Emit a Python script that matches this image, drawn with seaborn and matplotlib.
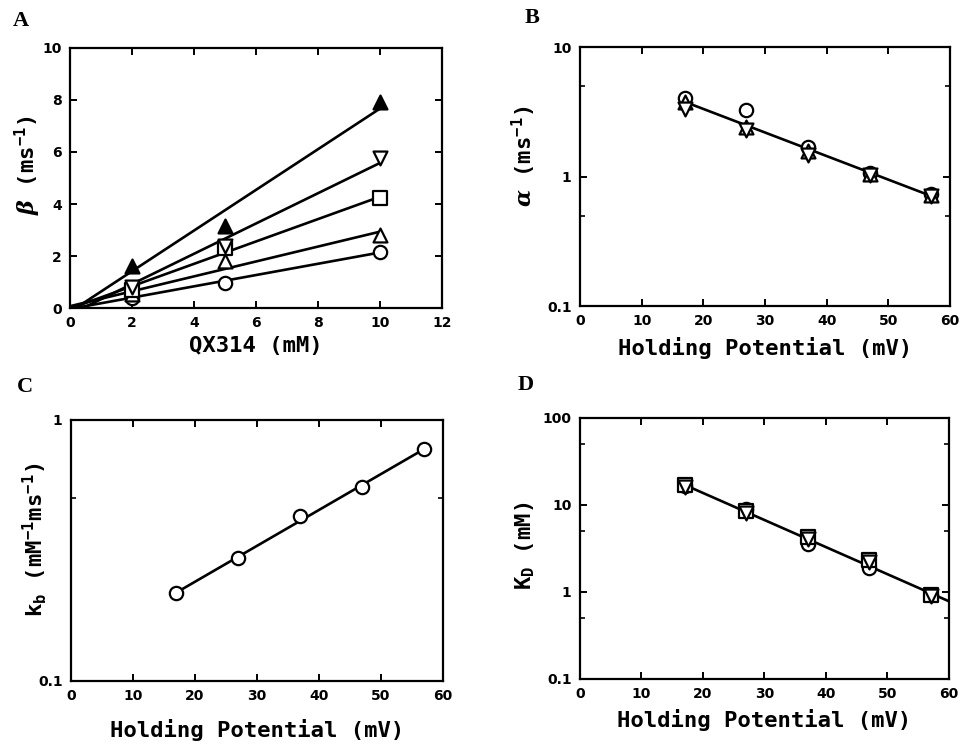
import numpy as np
import pandas as pd
import matplotlib
matplotlib.use("Agg")
import matplotlib.pyplot as plt
from matplotlib.ticker import LogLocator, NullFormatter, FuncFormatter, MultipleLocator
import seaborn as sns

# ---- Panel A: beta vs QX314 concentration, one series per holding potential ----
conc_mM = [0, 2, 5, 10]
beta_17mV = [0, 0.40, 0.98, 2.17]
beta_27mV = [0, 0.55, 1.79, 2.81]
beta_37mV = [0, 0.70, 2.30, 4.22]
beta_47mV = [0, 0.80, 2.37, 5.75]
beta_57mV = [0, 1.60, 3.16, 7.93]

# ---- Panels B-D: vs holding potential ----
potential_mV = [17, 27, 37, 47, 57]
alpha_2mM = [4.05, 3.25, 1.70, 1.07, 0.73]
alpha_5mM = [3.75, 2.40, 1.58, 1.05, 0.72]
alpha_10mM = [3.35, 2.30, 1.48, 1.03, 0.71]
kb_values = [0.217, 0.295, 0.429, 0.552, 0.772]
kd_circle = [16.5, 9.0, 3.6, 1.88, 0.92]
kd_square = [17.0, 8.6, 4.3, 2.35, 0.93]
kd_tri = [16.0, 8.0, 4.1, 2.2, 0.90]

sns.set_theme(style="ticks")
plt.rcParams.update({
    "font.family": ["DejaVu Sans"],
    "font.weight": "bold",
    "text.color": "black",
    "axes.labelcolor": "black",
    "axes.edgecolor": "black",
    "axes.linewidth": 1.6,
    "xtick.color": "black",
    "ytick.color": "black",
    "xtick.direction": "in",
    "ytick.direction": "in",
    "xtick.top": True,
    "ytick.right": True,
    "xtick.major.size": 5,
    "ytick.major.size": 5,
    "xtick.major.width": 1.4,
    "ytick.major.width": 1.4,
    "ytick.minor.size": 3.5,
    "ytick.minor.width": 1.2,
    "xtick.labelsize": 10,
    "ytick.labelsize": 10,
    "xtick.major.pad": 6,
    "ytick.major.pad": 6,
    "mathtext.fontset": "custom",
    "mathtext.rm": "DejaVu Sans Mono:bold",
    "mathtext.bf": "DejaVu Sans Mono:bold",
    "mathtext.it": "DejaVu Serif:italic:bold",
    "mathtext.default": "rm",
})

LABEL_FONT = dict(family="DejaVu Sans Mono", weight="bold", size=16)
MS = 92
EW = 1.6
LW = 1.9

fig = plt.figure(figsize=(9.61, 7.44), dpi=100)
axA = fig.add_axes([0.0728, 0.586, 0.387, 0.3495])
axB = fig.add_axes([0.6035, 0.5887, 0.385, 0.348])
axC = fig.add_axes([0.0739, 0.0847, 0.387, 0.351])
axD = fig.add_axes([0.6035, 0.0874, 0.384, 0.351])


def pts(ax, x, y, marker, filled=False, size=MS):
    sns.scatterplot(x=x, y=y, marker=marker, s=size,
                    color="black" if filled else "white",
                    edgecolor="black", linewidth=EW, ax=ax,
                    zorder=3, legend=False, clip_on=False)


def fit_line(ax, x, y, x0, x1, log=False):
    x = np.asarray(x, float)
    y = np.asarray(y, float)
    xs = np.array([x0, x1])
    if log:
        p = np.polyfit(x, np.log10(y), 1)
        ys = 10 ** np.polyval(p, xs)
    else:
        p = np.polyfit(x, y, 1)
        ys = np.polyval(p, xs)
    sns.lineplot(x=xs, y=ys, color="black", linewidth=LW, ax=ax, zorder=2)


# ---- A ----
series_A = [
    (beta_17mV, "o", False),
    (beta_27mV, "^", False),
    (beta_37mV, "s", False),
    (beta_47mV, "v", False),
    (beta_57mV, "^", True),
]
for vals, mk, filled in series_A:
    fit_line(axA, conc_mM, vals, 0, 10)
for vals, mk, filled in series_A:
    xs = [c for c in conc_mM if c > 0]
    ys = [v for c, v in zip(conc_mM, vals) if c > 0]
    pts(axA, xs, ys, mk, filled, size=MS if mk == "o" else 100)
axA.set_xlim(0, 12)
axA.set_ylim(0, 10)
axA.xaxis.set_major_locator(MultipleLocator(2))
axA.yaxis.set_major_locator(MultipleLocator(2))
axA.set_xlabel("QX314 (mM)", **LABEL_FONT)
axA.set_ylabel(r"$\mathit{\beta}$ (ms$^{-1}$)", **LABEL_FONT)

# ---- B ----
all_alpha = alpha_2mM + alpha_5mM + alpha_10mM
fit_line(axB, potential_mV * 3, all_alpha, 17, 57, log=True)
pts(axB, potential_mV, alpha_2mM, "o")
pts(axB, potential_mV, alpha_5mM, "^", size=100)
pts(axB, potential_mV, alpha_10mM, "v", size=100)
axB.set_yscale("log")
axB.set_xlim(0, 60)
axB.set_ylim(0.1, 10)
axB.set_xlabel("Holding Potential (mV)", **LABEL_FONT)
axB.set_ylabel(r"$\mathit{\alpha}$ (ms$^{-1}$)", **LABEL_FONT)

# ---- C ----
fit_line(axC, potential_mV, kb_values, 17, 57, log=True)
pts(axC, potential_mV, kb_values, "o")
axC.set_yscale("log")
axC.set_xlim(0, 60)
axC.set_ylim(0.1, 1)
axC.set_xlabel("Holding Potential (mV)", **LABEL_FONT)
axC.set_ylabel(r"k$_{\mathrm{b}}$ (mM$^{-1}$ms$^{-1}$)", **LABEL_FONT)

# ---- D ----
all_kd = kd_circle + kd_square + kd_tri
fit_line(axD, potential_mV * 3, all_kd, 17, 60, log=True)
pts(axD, potential_mV, kd_circle, "o")
pts(axD, potential_mV, kd_square, "s")
pts(axD, potential_mV, kd_tri, "v", size=100)
axD.set_yscale("log")
axD.set_xlim(0, 60)
axD.set_ylim(0.1, 100)
axD.set_xlabel("Holding Potential (mV)", **LABEL_FONT)
axD.set_ylabel(r"K$_{\mathrm{D}}$ (mM)", **LABEL_FONT)

fmt = FuncFormatter(lambda v, _: f"{v:g}")
for ax in (axB, axC, axD):
    ax.xaxis.set_major_locator(MultipleLocator(10))
    ax.yaxis.set_major_locator(LogLocator(base=10, numticks=10))
    ax.yaxis.set_minor_locator(LogLocator(base=10, subs=[5], numticks=10))
    ax.yaxis.set_major_formatter(fmt)
    ax.yaxis.set_minor_formatter(NullFormatter())

for ax in (axA, axB, axC, axD):
    ax.tick_params(axis="x", which="minor", bottom=False, top=False)
    for lab in ax.get_xticklabels() + ax.get_yticklabels():
        lab.set_fontweight("bold")

axA.xaxis.set_label_coords(0.5, -0.108)
axB.xaxis.set_label_coords(0.5, -0.12)
axC.xaxis.set_label_coords(0.5, -0.146)
axD.xaxis.set_label_coords(0.5, -0.115)
axA.yaxis.set_label_coords(-0.073, 0.55)
axB.yaxis.set_label_coords(-0.114, 0.58)
axC.yaxis.set_label_coords(-0.058, 0.54)
axD.yaxis.set_label_coords(-0.116, 0.51)

letter_font = dict(family="Liberation Serif", size=16, va="center", ha="left")
fig.text(13 / 961, 1 - 21 / 744, "A", **letter_font)
fig.text(525 / 961, 1 - 18 / 744, "B", **letter_font)
fig.text(17 / 961, 1 - 387 / 744, "C", **letter_font)
fig.text(518 / 961, 1 - 385 / 744, "D", **letter_font)

fig.savefig("out.png", dpi=100)
